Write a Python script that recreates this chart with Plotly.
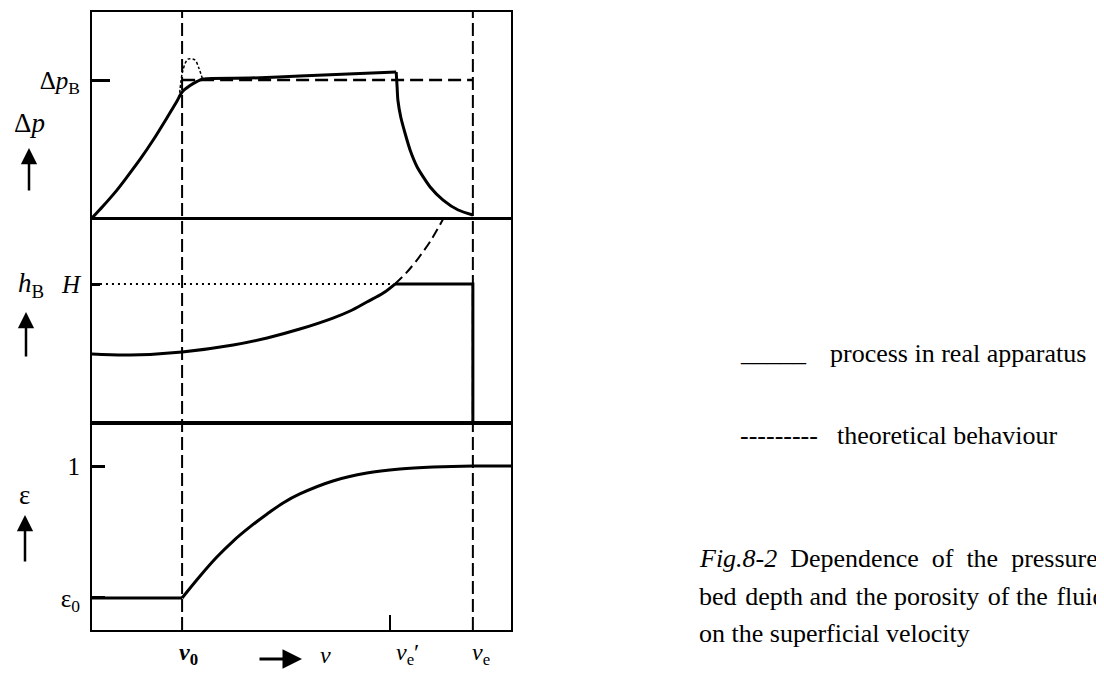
import plotly.graph_objects as go

# ---------------- data (velocity in arbitrary units, 0..100 across the frame) ----------------
V0 = 21.5
VE_PRIME = 71.1
VE = 90.9

# pressure drop (ΔpB = 1)
v_dp_rise = [0, 2.6, 6.0, 8.6, 11.5, 14.6, 17.9, 20.3, 21.5, 23.4, 25.1, 26.5, 37.7, 49.6, 72.6]
dp_rise = [0, 0.085, 0.204, 0.307, 0.426, 0.565, 0.727, 0.848, 0.913, 0.960, 0.990, 1.007, 1.014, 1.029, 1.058]
v_dp_drop = [72.6, 72.8, 73.0, 73.7, 74.7, 76.0, 77.6, 80.7, 83.8, 87.4, 90.9]
dp_drop = [1.058, 0.960, 0.855, 0.730, 0.616, 0.485, 0.370, 0.225, 0.130, 0.058, 0.022]
v_dp_theo = [V0, VE]
dp_theo = [1.0, 1.0]
v_dp_hump = [20.8, 21.7, 22.9, 24.6, 25.5, 26.3]
dp_hump = [0.870, 1.072, 1.152, 1.145, 1.087, 1.014]

# bed height (H = 1)
v_h = [0, 9.1, 21.5, 33.7, 41.8, 49.6, 57.5, 61.6, 65.6, 69.5, 72.3]
h_real = [0.496, 0.489, 0.511, 0.561, 0.612, 0.676, 0.755, 0.806, 0.871, 0.935, 1.0]
v_h_plateau = [72.3, VE, VE]
h_plateau = [1.0, 1.0, 0.0]
v_h_theo = [72.3, 75.0, 78.0, 81.0, 83.8]
h_theo = [1.0, 1.08, 1.19, 1.32, 1.468]
v_h_dot = [1.9, 72.3]
h_dot = [1.0, 1.0]

# porosity (ε0 = 0.4)
v_eps_flat = [0, V0]
eps_flat = [0.4, 0.4]
v_eps = [21.5, 25.8, 29.8, 33.7, 37.7, 41.8, 45.6, 49.6, 57.5, 65.6, 73.5, 81.4, 90.9, 100]
eps = [0.4, 0.500, 0.586, 0.659, 0.723, 0.782, 0.832, 0.873, 0.932, 0.968, 0.986, 0.995, 1.0, 1.0]

# ---------------- layout helpers (page pixels -> paper; page body has an 8px margin) ----------------
OFF = 8
W, H = 1104 - OFF, 674 - OFF
def px(x):
    return (x - OFF) / W
def py(y):
    return 1 - (y - OFF) / H

FONT = "Liberation Serif"
BLACK = "black"

fig = go.Figure()

def line(x, y, ax, width=3, dash=None, shape="linear", smoothing=0.8):
    fig.add_trace(go.Scatter(x=x, y=y, xaxis=ax[0], yaxis=ax[1], mode="lines",
                             line=dict(color=BLACK, width=width, dash=dash, shape=shape, smoothing=smoothing),
                             showlegend=False, hoverinfo="skip"))

A1, A2, A3 = ("x", "y"), ("x2", "y2"), ("x3", "y3")

# panel 1
line(v_dp_rise, dp_rise, A1, 3, shape="spline")
line(v_dp_drop, dp_drop, A1, 3, shape="spline", smoothing=0.6)
line(v_dp_theo, dp_theo, A1, 2.5, dash="13px,6px")
line(v_dp_hump, dp_hump, A1, 1.5, dash="3px,2px", shape="spline")
# panel 2
line(v_h, h_real, A2, 3, shape="spline", smoothing=1.0)
line(v_h_plateau, h_plateau, A2, 3)
line(v_h_theo, h_theo, A2, 2, dash="10px,5px", shape="spline")
line(v_h_dot, h_dot, A2, 2, dash="2px,4px")
# panel 3
line(v_eps_flat, eps_flat, A3, 3)
line(v_eps, eps, A3, 3, shape="spline", smoothing=1.0)

xdom = [px(92), px(511)]
common_x = dict(domain=xdom, range=[0, 100], showline=True, mirror=True, linewidth=2, linecolor=BLACK,
                showgrid=False, zeroline=False, showticklabels=False, ticks="")
common_y = dict(showline=True, mirror=True, linewidth=2, linecolor=BLACK, showgrid=False, zeroline=False,
                ticks="inside", tickwidth=2.5, tickcolor=BLACK, ticklabelstandoff=5,
                tickfont=dict(family=FONT, size=25, color=BLACK))

fig.update_layout(
    width=W, height=H, margin=dict(l=0, r=0, t=0, b=0),
    paper_bgcolor="white", plot_bgcolor="white", showlegend=False,
    font=dict(family=FONT, color=BLACK),
    xaxis=dict(common_x, anchor="y"),
    xaxis2=dict(common_x, anchor="y2", matches="x"),
    xaxis3=dict(common_x, anchor="y3", matches="x", ticks="inside", tickvals=[VE_PRIME], ticklen=15,
                tickwidth=2, tickcolor=BLACK),
    yaxis=dict(common_y, domain=[py(218), py(12)], range=[0, 1.493], anchor="x",
               tickvals=[1.0], ticktext=["Δ<i>p</i><sub>B</sub>"], ticklen=18),
    yaxis2=dict(common_y, domain=[py(423), py(219)], range=[0, 1.468], anchor="x2",
                tickvals=[1.0], ticktext=["<i>H</i>"], ticklen=8),
    yaxis3=dict(common_y, domain=[py(630), py(423)], range=[0.2545, 1.1955], anchor="x3",
                tickvals=[0.4, 1.0], ticktext=["ε<sub>0</sub>", "1"], ticklen=13),
)

# vertical dashed lines V0 and Ve through all panels
for xv in (V0, VE):
    fig.add_shape(type="line", xref="x", yref="paper", x0=xv, x1=xv, y0=py(630), y1=py(12),
                  line=dict(color=BLACK, width=2, dash="13px,5px"))

ann = []
def text(x, y, s, size=24, xanchor="center", xref="paper", yref="paper"):
    ann.append(dict(x=x, y=y, xref=xref, yref=yref, text=s, showarrow=False, xanchor=xanchor,
                    yanchor="middle", font=dict(family=FONT, size=size, color=BLACK)))
def arrow(xt, yt, dx, dy, width=2.5):
    ann.append(dict(x=px(xt), y=py(yt), xref="paper", yref="paper", text="", showarrow=True,
                    ax=dx, ay=dy, arrowhead=2, arrowsize=1.3, arrowwidth=width, arrowcolor=BLACK))

# left quantity labels and arrows
text(px(29), py(123), "Δ<i>p</i>", 27)
arrow(29, 148, 0, 44)
text(px(31), py(285), "<i>h</i><sub>B</sub>", 27)
arrow(26, 312, 0, 46)
text(px(24), py(495), "ε", 27)
arrow(25, 515, 0, 48)

# bottom velocity labels
text(V0 + 1.5, py(654), "<b><i>v</i><sub>0</sub></b>", 24, xref="x3")
arrow(302, 659, -44, 0, 3)
text(px(325), py(655), "<i>v</i>", 24)
text(75.2, py(654), "<i>v</i><sub>e</sub>′", 24, xref="x3")
text(VE + 2.0, py(654), "<i>v</i><sub>e</sub>", 24, xref="x3")

# text legend
text(px(738), py(352), "_____", 26, xanchor="left")
text(px(828), py(353), "process in real apparatus", 26, xanchor="left")
text(px(738), py(435), "---------", 26, xanchor="left")
text(px(835), py(435), "theoretical behaviour", 26, xanchor="left")

# caption (justified in the source, so the word gaps are widened)
G1 = " &nbsp;"
words2 = ["bed", "depth", "and", "the", "porosity", "of", "the", "fluidized", "bed"]
line2 = ""
for i, w in enumerate(words2):
    line2 += w
    if i < len(words2) - 1:
        line2 += " \u200a" if i % 2 == 0 else " "
text(px(697), py(558), "<i>Fig.8-2</i>" + G1 + "Dependence" + G1 + "of" + G1 + "the" + G1 + "pressure" + G1 + "drop," + G1 + "the", 26, xanchor="left")
text(px(697), py(596), line2, 26, xanchor="left")
text(px(697), py(633), "on the superficial velocity", 26, xanchor="left")

fig.update_layout(annotations=ann)
fig.write_html("out.html")
